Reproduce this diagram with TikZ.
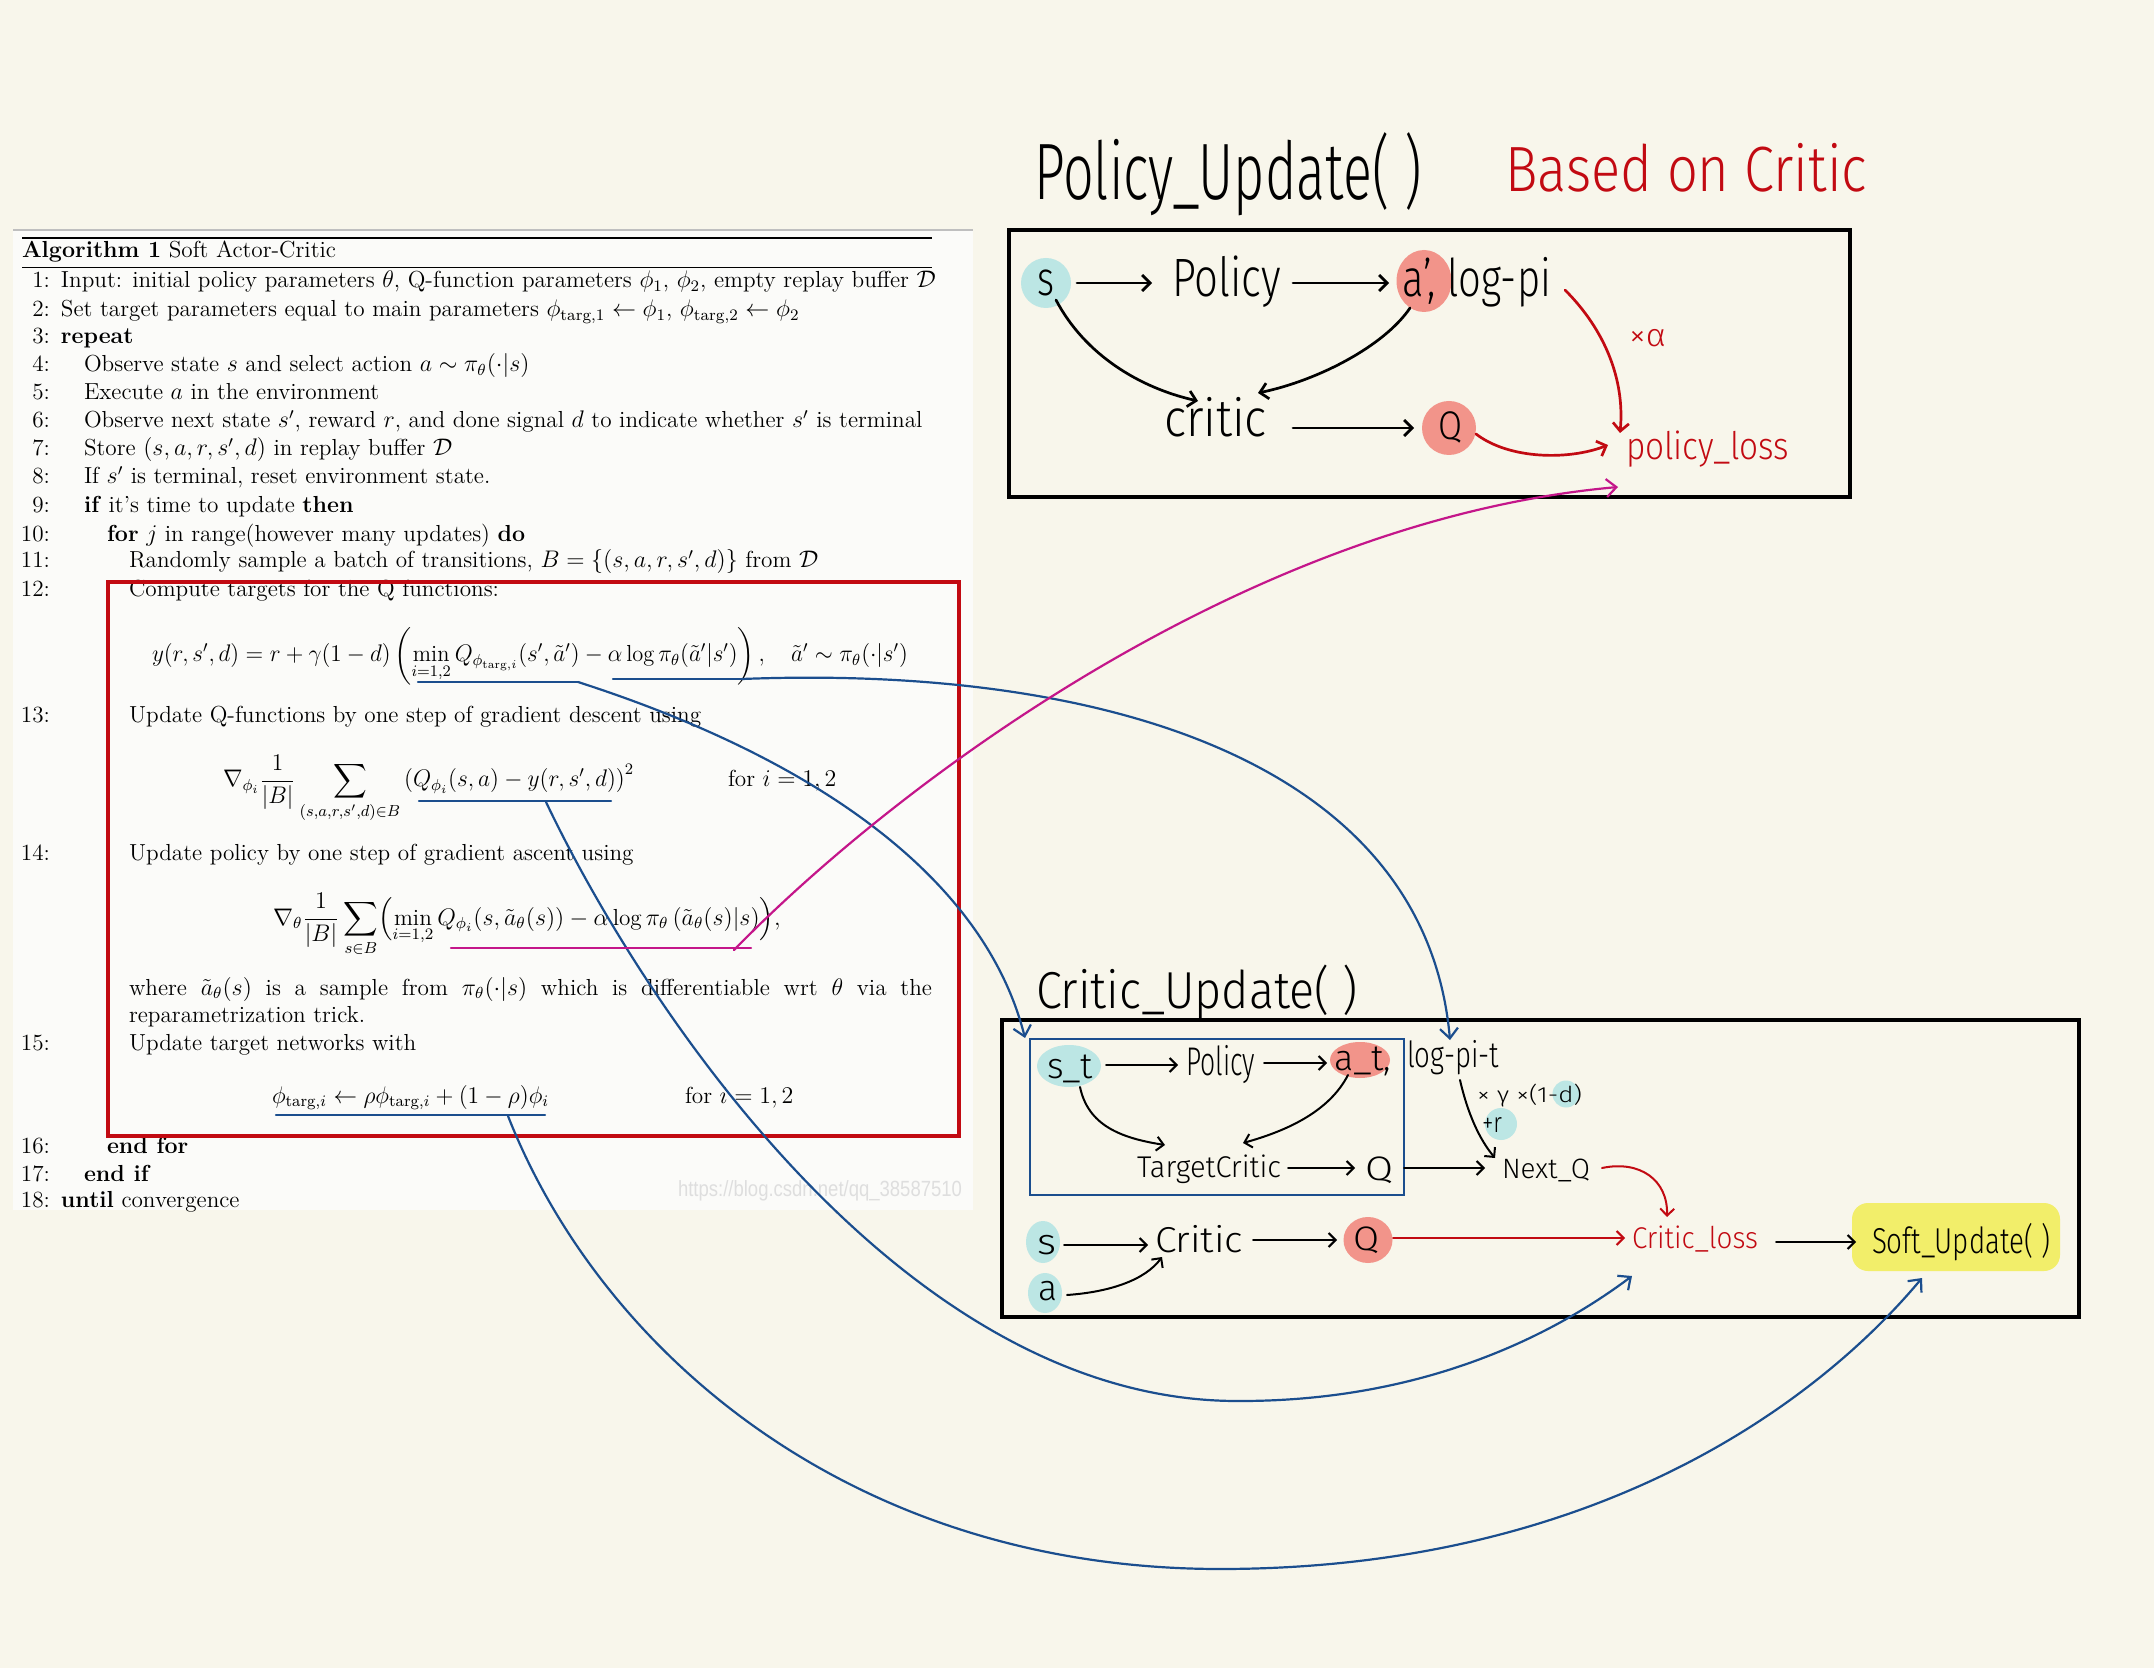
\documentclass[tikz,border=0pt]{standalone}
\usepackage{fontspec}
\usepackage{amsmath}
\usepackage{graphicx}
\usetikzlibrary{arrows.meta,shapes.geometric}
\IfFontExistsTF{Fira Sans Light}{\newfontfamily\handfont{Fira Sans Light}}{\newfontfamily\handfont{Fira Sans}}
\newfontfamily\wmfont{Liberation Sans}
\definecolor{bg}{HTML}{F8F6EB}
\definecolor{panel}{HTML}{FBFBF9}
\definecolor{redc}{HTML}{C20A12}
\definecolor{bluec}{HTML}{1B4E8E}
\definecolor{magc}{HTML}{C4168A}
\definecolor{cyanc}{HTML}{BCE6E4}
\definecolor{salmon}{HTML}{F2948A}
\definecolor{yellowc}{HTML}{F2EE6A}
\newcommand\algfont{\fontsize{11.6}{13.5}\selectfont}
\newcommand\hw[3]{\resizebox{#1pt}{\height}{\fontsize{#2}{#2}\selectfont\handfont #3}}
\tikzset{
  every node/.style={inner sep=0pt, outer sep=0pt},
  alg/.style={anchor=base west, font=\algfont},
  num/.style={anchor=base east, font=\algfont},
  hand/.style={anchor=base west},
  arr/.style={-{Straight Barb[length=4pt,width=8pt]}, line width=1.35pt, line cap=round},
  arrc/.style={-{Straight Barb[length=3.5pt,width=7pt]}, line width=1pt, line cap=round},
  conn/.style={line width=1.1pt, line cap=round},
  conntip/.style={-{Straight Barb[length=5pt,width=9pt]}},
  hlc/.style={fill=cyanc},
  hls/.style={fill=salmon},
}
\begin{document}
\begin{tikzpicture}[x=0.5pt,y=-0.5pt]
\useasboundingbox (0,0) rectangle (2154,1668);
\fill[bg] (0,0) rectangle (2154,1668);

% ---------- algorithm panel ----------
\fill[panel] (13,229) rectangle (973,1210);
\draw[black!25, line width=1pt] (13,230) -- (973,230);
\draw[line width=0.9pt] (22,238) -- (932,238);
\draw[line width=0.5pt] (22,268) -- (932,268);
\node[alg] (atitle) at (22,258) {\textbf{Algorithm 1} Soft Actor-Critic};

\node[num] (n1) at (50,288) {1:};
\node[alg] (l1) at (61,288) {Input: initial policy parameters $\theta$, Q-function parameters $\phi_1$, $\phi_2$, empty replay buffer $\mathcal{D}$};
\node[num] (n2) at (50,317) {2:};
\node[alg] (l2) at (61,317) {Set target parameters equal to main parameters $\phi_{\text{targ},1}\leftarrow\phi_1$, $\phi_{\text{targ},2}\leftarrow\phi_2$};
\node[num] (n3) at (50,344) {3:};
\node[alg] (l3) at (61,344) {\textbf{repeat}};
\node[num] (n4) at (50,372) {4:};
\node[alg] (l4) at (84,372) {Observe state $s$ and select action $a\sim\pi_\theta(\cdot|s)$};
\node[num] (n5) at (50,400) {5:};
\node[alg] (l5) at (84,400) {Execute $a$ in the environment};
\node[num] (n6) at (50,428) {6:};
\node[alg] (l6) at (84,428) {Observe next state $s'$, reward $r$, and done signal $d$ to indicate whether $s'$ is terminal};
\node[num] (n7) at (50,456) {7:};
\node[alg] (l7) at (84,456) {Store $(s,a,r,s',d)$ in replay buffer $\mathcal{D}$};
\node[num] (n8) at (50,484) {8:};
\node[alg] (l8) at (84,484) {If $s'$ is terminal, reset environment state.};
\node[num] (n9) at (50,513) {9:};
\node[alg] (l9) at (84,513) {\textbf{if} it's time to update \textbf{then}};
\node[num] (n10) at (50,542) {10:};
\node[alg] (l10) at (107,542) {\textbf{for} $j$ in range(however many updates) \textbf{do}};
\node[num] (n11) at (50,568) {11:};
\node[alg] (l11) at (129,568) {Randomly sample a batch of transitions, $B=\{(s,a,r,s',d)\}$ from $\mathcal{D}$};
\node[num] (n12) at (50,597) {12:};
\node[alg] (l12) at (129,597) {Compute targets for the Q functions:};
\node[alg] (eq12) at (152,662) {\scalebox{0.965}[1]{$\displaystyle y(r,s',d) = r+\gamma(1-d)\left(\min_{i=1,2} Q_{\phi_{\text{targ},i}}(s',\tilde a') - \alpha\log\pi_\theta(\tilde a'|s')\right),\quad \tilde a'\sim\pi_\theta(\cdot|s')$}};
\node[num] (n13) at (50,723) {13:};
\node[alg] (l13) at (129,723) {Update Q-functions by one step of gradient descent using};
\node[alg] (eq13) at (223,787) {\scalebox{0.975}[1]{$\displaystyle \nabla_{\phi_i}\frac{1}{|B|}\sum_{(s,a,r,s',d)\in B}\left(Q_{\phi_i}(s,a)-y(r,s',d)\right)^2$}};
\node[alg] (eq13b) at (728,787) {for $i=1,2$};
\node[num] (n14) at (50,860) {14:};
\node[alg] (l14) at (129,860) {Update policy by one step of gradient ascent using};
\node[alg] (eq14) at (273,925) {$\displaystyle \nabla_\theta\frac{1}{|B|}\sum_{s\in B}\Bigl(\min_{i=1,2}Q_{\phi_i}(s,\tilde a_\theta(s)) - \alpha\log\pi_\theta\left(\tilde a_\theta(s)\middle| s\right)\Bigr),$};
\node[alg] (lwhere) at (129,995) {\makebox[401.5pt][s]{where $\tilde a_\theta(s)$ is a sample from $\pi_\theta(\cdot|s)$ which is differentiable wrt $\theta$ via the}};
\node[alg] (lrep) at (129,1022) {reparametrization trick.};
\node[num] (n15) at (50,1050) {15:};
\node[alg] (l15) at (129,1050) {Update target networks with};
\node[alg] (eq15) at (272,1103) {\scalebox{0.98}[1]{$\displaystyle \phi_{\text{targ},i}\leftarrow\rho\phi_{\text{targ},i}+(1-\rho)\phi_i$}};
\node[alg] (eq15b) at (685,1103) {for $i=1,2$};
\node[num] (n16) at (50,1153) {16:};
\node[alg] (l16) at (107,1153) {\textbf{end for}};
\node[num] (n17) at (50,1181) {17:};
\node[alg] (l17) at (84,1181) {\textbf{end if}};
\node[num] (n18) at (50,1207) {18:};
\node[alg] (l18) at (61,1207) {\textbf{until} convergence};
\node[anchor=base west, text=black!13] (wm) at (678,1196) {\resizebox{142pt}{\height}{\fontsize{11}{12}\selectfont\wmfont https://blog.csdn.net/qq\_38587510}};

% red frame
\draw[redc, line width=1.6pt] (108,582) rectangle (959,1136);

% ---------- Policy_Update ----------
\node[hand] (ptitle) at (1034,200) {\hw{194}{40}{Policy\_Update( )}};
\node[hand, text=redc] (based) at (1505,192) {\hw{181}{32}{Based on Critic}};
\node[draw, line width=1.6pt, anchor=north west, minimum width=420.5pt, minimum height=133.5pt] (pbox) at (1009,230) {};

\node[circle, hlc, minimum size=25pt] (sP) at (1046,283) {};
\node[hand] (sPt) at (1037,296) {\hw{8.5}{24}{s}};
\node[hand] (polP) at (1172,297) {\hw{54.5}{27}{Policy}};
\node[ellipse, hls, minimum width=27.5pt, minimum height=31pt] (aP) at (1424,281) {};
\node[hand] (aPt) at (1402,297) {\hw{74.5}{26}{a’, log-pi}};
\node[hand] (critP) at (1164,437) {\hw{51.5}{26}{critic}};
\node[circle, hls, minimum size=27pt] (qP) at (1449,428) {};
\node[hand] (qPt) at (1438,440) {\hw{12}{20}{Q}};
\node[hand, text=redc] (plossP) at (1626,460) {\hw{81.5}{19}{policy\_loss}};
\node[hand, text=redc] (alphaP) at (1629,347) {\hw{18.5}{16}{×α}};

\coordinate (p1a) at (1077,283); \coordinate (p1b) at (1152,283);
\coordinate (p2a) at (1293,283); \coordinate (p2b) at (1389,283);
\coordinate (p3a) at (1293,428); \coordinate (p3b) at (1414,428);
\coordinate (p4a) at (1056,300); \coordinate (p4b) at (1198,401);
\coordinate (p5a) at (1410,308); \coordinate (p5b) at (1258,393);
\coordinate (p6a) at (1565,290); \coordinate (p6b) at (1620,433);
\coordinate (p7a) at (1476,434); \coordinate (p7b) at (1608,445);
\draw[arr] (p1a) -- (p1b);
\draw[arr] (p2a) -- (p2b);
\draw[arr] (p3a) -- (p3b);
\draw[arr] (p4a) .. controls (1085,355) and (1140,388) .. (p4b);
\draw[arr] (p5a) .. controls (1385,345) and (1320,380) .. (p5b);
\draw[arr, redc] (p6a) .. controls (1605,330) and (1625,380) .. (p6b);
\draw[arr, redc] (p7a) .. controls (1510,460) and (1570,460) .. (p7b);

% ---------- Critic_Update ----------
\node[hand] (ctitle) at (1036,1008) {\hw{161}{26}{Critic\_Update( )}};
\node[draw, line width=1.6pt, anchor=north west, minimum width=538.5pt, minimum height=148.5pt] (cbox) at (1002,1020) {};
\node[draw=bluec, line width=1.1pt, anchor=north west, minimum width=187pt, minimum height=78pt] (ibox) at (1030,1039) {};

\node[ellipse, hlc, minimum width=32pt, minimum height=21pt] (stE) at (1069,1066) {};
\node[hand] (stT) at (1047,1078) {\hw{23}{18}{s\_t}};
\node[hand] (polC) at (1186,1075) {\hw{34.5}{20}{Policy}};
\node[ellipse, hls, minimum width=30pt, minimum height=18pt] (atE) at (1360,1060) {};
\node[hand] (atT) at (1334,1070) {\hw{28.5}{18}{a\_t,}};
\node[hand] (lpt) at (1407,1067) {\hw{46}{18}{log-pi-t}};
\node[circle, hlc, minimum size=13.5pt] (dC) at (1566,1094) {};
\node[hand] (gam) at (1477,1102) {\hw{52.5}{11}{× γ ×(1-d)}};
\node[circle, hlc, minimum size=16pt] (rC) at (1501,1124) {};
\node[hand] (rT) at (1482,1132) {\hw{10}{14}{+r}};
\node[hand] (tc) at (1137,1177) {\hw{72}{15}{TargetCritic}};
\node[hand] (q2) at (1365,1180) {\hw{14}{17}{Q}};
\node[hand] (nq) at (1502,1178) {\hw{44}{14}{Next\_Q}};

\node[ellipse, hlc, minimum width=17pt, minimum height=21pt] (sE) at (1043,1242) {};
\node[hand] (sT) at (1037,1254) {\hw{9.5}{18}{s}};
\node[ellipse, hlc, minimum width=17pt, minimum height=20pt] (aE) at (1045,1293) {};
\node[hand] (aT) at (1038,1300) {\hw{9.5}{18}{a}};
\node[hand] (cr) at (1155,1252) {\hw{44}{18}{Critic}};
\node[ellipse, hls, minimum width=24.5pt, minimum height=23pt] (q3E) at (1368,1240) {};
\node[hand] (q3T) at (1353,1250) {\hw{13}{17}{Q}};
\node[hand, text=redc] (cl) at (1632,1248) {\hw{63}{15}{Critic\_loss}};
\node[fill=yellowc, rounded corners=8pt, anchor=north west, minimum width=104pt, minimum height=34pt] (softE) at (1852,1203) {};
\node[hand] (softT) at (1872,1253) {\hw{89}{18}{Soft\_Update( )}};

\coordinate (c1a) at (1106,1065); \coordinate (c1b) at (1178,1065);
\coordinate (c2a) at (1264,1063); \coordinate (c2b) at (1327,1063);
\coordinate (c3a) at (1080,1087); \coordinate (c3b) at (1165,1145);
\coordinate (c4a) at (1348,1075); \coordinate (c4b) at (1243,1143);
\coordinate (c5a) at (1288,1168); \coordinate (c5b) at (1355,1168);
\coordinate (c6a) at (1404,1168); \coordinate (c6b) at (1485,1168);
\coordinate (c7a) at (1460,1080); \coordinate (c7b) at (1495,1158);
\coordinate (c8a) at (1602,1168); \coordinate (c8b) at (1667,1217);
\coordinate (c9a) at (1064,1245); \coordinate (c9b) at (1148,1245);
\coordinate (c10a) at (1067,1295); \coordinate (c10b) at (1162,1257);
\coordinate (c11a) at (1253,1240); \coordinate (c11b) at (1337,1240);
\coordinate (c12a) at (1393,1238); \coordinate (c12b) at (1625,1238);
\coordinate (c13a) at (1776,1242); \coordinate (c13b) at (1856,1242);
\draw[arrc] (c1a) -- (c1b);
\draw[arrc] (c2a) -- (c2b);
\draw[arrc] (c3a) .. controls (1088,1125) and (1120,1138) .. (c3b);
\draw[arrc] (c4a) .. controls (1330,1110) and (1290,1130) .. (c4b);
\draw[arrc] (c5a) -- (c5b);
\draw[arrc] (c6a) -- (c6b);
\draw[arrc] (c7a) .. controls (1468,1115) and (1480,1140) .. (c7b);
\draw[arrc, redc] (c8a) .. controls (1640,1160) and (1668,1180) .. (c8b);
\draw[arrc] (c9a) -- (c9b);
\draw[arrc] (c10a) .. controls (1110,1292) and (1145,1280) .. (c10b);
\draw[arrc] (c11a) -- (c11b);
\draw[arrc, redc] (c12a) -- (c12b);
\draw[arrc] (c13a) -- (c13b);

% ---------- long connectors ----------
\coordinate (u1a) at (418,682); \coordinate (u1b) at (578,682);
\coordinate (u2a) at (613,679); \coordinate (u2b) at (742,679);
\coordinate (u3a) at (419,801); \coordinate (u3b) at (611,801); \coordinate (u3s) at (546,802);
\coordinate (u4a) at (451,948); \coordinate (u4b) at (751,948); \coordinate (u4s) at (734,950);
\coordinate (u5a) at (276,1115); \coordinate (u5b) at (545,1115); \coordinate (u5s) at (508,1116);
\coordinate (t1) at (1025,1038);
\coordinate (t2) at (1450,1040);
\coordinate (t3) at (1632,1276);
\coordinate (t4) at (1618,487);
\coordinate (t5) at (1922,1278);

\draw[conn, bluec] (u1a) -- (u1b);
\draw[conn, bluec, conntip] (u1b) .. controls (820,760) and (985,880) .. (t1);
\draw[conn, bluec] (u2a) -- (u2b);
\draw[conn, bluec, conntip] (u2b) .. controls (1100,665) and (1425,760) .. (t2);
\draw[conn, bluec] (u3a) -- (u3b);
\draw[conn, bluec, conntip] (u3s) .. controls (640,1000) and (900,1400) .. (1236,1401) .. controls (1430,1402) and (1560,1330) .. (t3);
\draw[conn, magc] (u4a) -- (u4b);
\draw[conn, magc, conntip] (u4s) .. controls (900,780) and (1250,520) .. (t4);
\draw[conn, bluec] (u5a) -- (u5b);
\draw[conn, bluec, conntip] (u5s) .. controls (600,1350) and (850,1570) .. (1223,1569) .. controls (1600,1568) and (1820,1400) .. (t5);
\end{tikzpicture}
\end{document}
